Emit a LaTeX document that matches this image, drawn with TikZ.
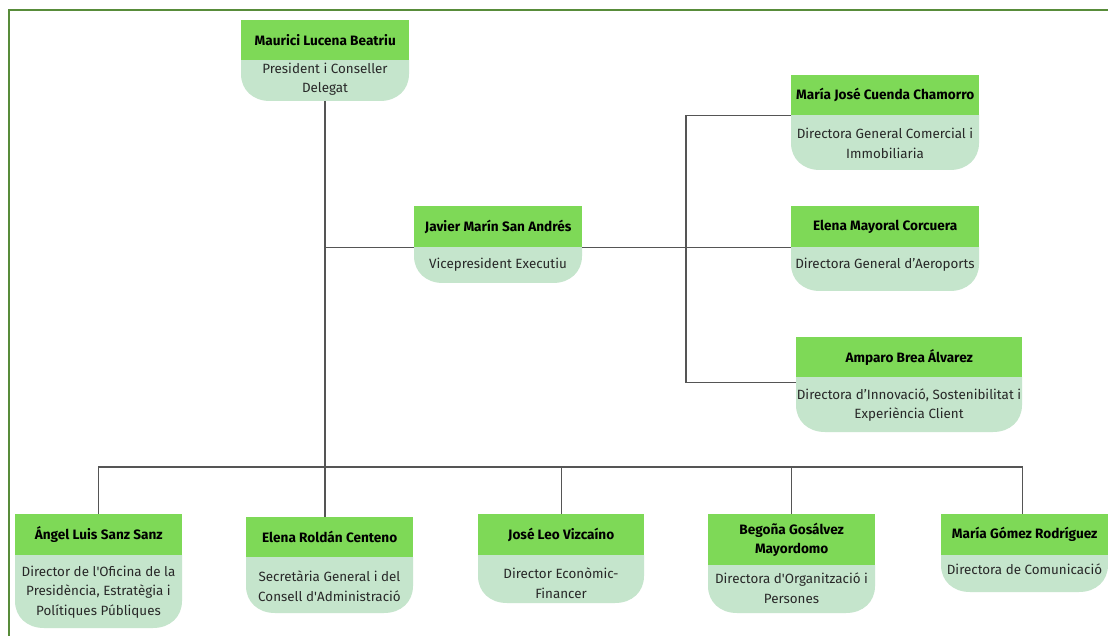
\documentclass[tikz,border=0pt]{standalone}
\usepackage{fontspec}
\setmainfont{Fira Sans}
\definecolor{hdrc}{RGB}{126,217,87}
\definecolor{bodyc}{RGB}{197,229,204}
\definecolor{framec}{RGB}{88,140,58}
\definecolor{linec}{RGB}{85,85,85}
\definecolor{txtc}{RGB}{40,40,40}
\tikzset{
  hdr/.style={fill=hdrc, inner sep=0pt, align=center, text=black, font=\bfseries\fontsize{13.6}{19}\selectfont},
  bodytxt/.style={inner sep=0pt, align=center, text=txtc, font=\fontsize{13.4}{19.5}\selectfont},
  conn/.style={draw=linec, line width=1.4pt},
}
% #1 name, #2 x1, #3 x2, #4 ytop, #5 ymid, #6 ybot, #7 ytext, #8 header, #9 body
\newcommand\orgbox[9]{%
  \fill[bodyc] (#2,#5) -- (#3,#5) -- (#3,{#6-27})
     .. controls (#3,{#6-11}) and ({#3-12},#6) .. ({#3-29},#6)
     -- ({#2+29},#6)
     .. controls ({#2+12},#6) and (#2,{#6-11}) .. (#2,{#6-27}) -- cycle;
  \node[hdr, minimum width={(#3-#2)*1pt}, minimum height={(#5-#4)*1pt}, anchor=north west] (#1) at (#2,#4) {#8};
  \node[bodytxt] (#1-t) at ({(#2+#3)/2},#7) {#9};
  \coordinate (#1-b) at ({(#2+#3)/2},#6);
}
\begin{document}
\begin{tikzpicture}[x=1pt,y=-1pt]
\useasboundingbox (0,0) rectangle (1108,636);
\fill[white] (0,0) rectangle (1108,636);
\draw[framec, line width=2pt] (9,636) -- (9,10) -- (1108,10);

\orgbox{mlb}{241}{409}{20}{60}{101}{79}{Maurici Lucena Beatriu}{President i Conseller\\Delegat}
\orgbox{jms}{414}{582}{206}{247}{283}{265}{Javier Marín San Andrés}{Vicepresident Executiu}
\orgbox{mjc}{791}{979}{75}{115}{170}{143.5}{María José Cuenda Chamorro}{Directora General Comercial i\\Immobiliaria}
\orgbox{emc}{791}{979}{206}{247}{291}{265}{Elena Mayoral Corcuera}{Directora General d’Aeroports}
\orgbox{aba}{796}{1022}{337}{377}{432}{405}{Amparo Brea Álvarez}{Directora d’Innovació, Sostenibilitat i\\Experiència Client}
\orgbox{als}{15}{182}{514}{555}{628}{592}{Ángel Luis Sanz Sanz}{Director de l\textquotesingle Oficina de la\\Presidència, Estratègia i\\Polítiques Públiques}
\orgbox{erc}{246}{413}{517}{557}{613}{586}{Elena Roldán Centeno}{Secretària General i del\\Consell d\textquotesingle Administració}
\orgbox{jlv}{478}{644}{514}{555}{603}{583}{José Leo Vizcaíno}{Director Econòmic-\\Financer}
\orgbox{bgm}{708}{875}{514}{565}{613}{588}{Begoña Gosálvez\\Mayordomo}{Directora d\textquotesingle Organització i\\Persones}
\orgbox{mgr}{941}{1108}{514}{555}{592}{569}{María Gómez Rodríguez}{Directora de Comunicació}

\coordinate (vs) at (686,248);
\coordinate (bus) at (325,467);
\draw[conn] (mlb-b) -- (mlb-b |- erc.north);
\draw[conn] (jms.south west) -- (jms.south west -| mlb-b);
\draw[conn] (jms.south east) -- (emc.south west);
\draw[conn] (mjc.south west) -| (vs) |- ([yshift=-5pt]aba.south west);
\draw[conn] (als.north) |- (bus) -| ([xshift=-2pt]mgr.north);
\draw[conn] (jlv.north) -- (jlv.north |- bus);
\draw[conn] (bgm.north) -- (bgm.north |- bus);
\end{tikzpicture}
\end{document}
